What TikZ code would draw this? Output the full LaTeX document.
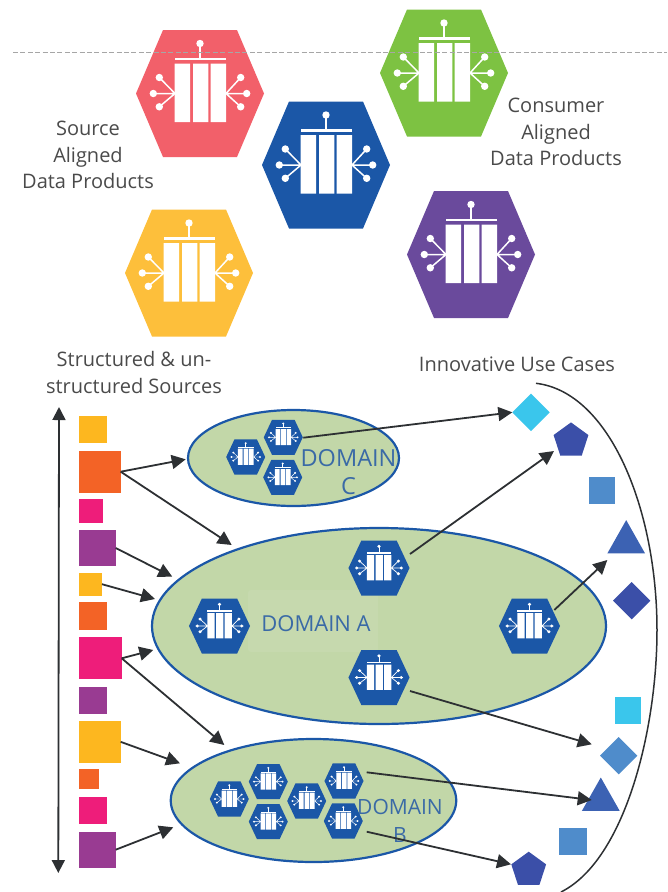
\documentclass[tikz,border=0pt]{standalone}
\usepackage{fontspec}
\setmainfont{Open Sans}
\usetikzlibrary{arrows.meta,shapes.geometric}
\definecolor{cRed}{HTML}{F2606A}
\definecolor{cBlue}{HTML}{1B57A7}
\definecolor{cGreen}{HTML}{7DC242}
\definecolor{cYel}{HTML}{FDBF3B}
\definecolor{cPur}{HTML}{6A4A9C}
\definecolor{sYel}{HTML}{FDB71F}
\definecolor{sOra}{HTML}{F36326}
\definecolor{sPin}{HTML}{EE1D7A}
\definecolor{sPur}{HTML}{993B92}
\definecolor{tCyan}{HTML}{3AC6EC}
\definecolor{tMid}{HTML}{4F8CCB}
\definecolor{tTri}{HTML}{3C62B3}
\definecolor{tDark}{HTML}{3B4FA8}
\definecolor{dFill}{HTML}{C2D7A8}
\definecolor{dText}{HTML}{3A6AA6}
\definecolor{ink}{HTML}{2D3033}
\definecolor{lab}{HTML}{4A4A4A}
\tikzset{
  pics/dataprod/.style n args={3}{code={
    \begin{scope}[xscale=#2,yscale=#3]
      \fill[#1] (-64,0)--(-37,-63.5)--(37,-63.5)--(64,0)--(37,63.5)--(-37,63.5)--cycle;
      \fill[white] (-25.3,-30) rectangle (-10,28.7) (-7,-30) rectangle (8.3,28.7) (10.7,-30) rectangle (26,28.7);
      \fill[white] (-25.3,-36) rectangle (26,-33.3);
      \draw[white,line width=#2*1.5pt] (0,-36)--(0,-50);
      \fill[white] (0,-50) circle[radius=3.7];
      \draw[white,line width=#2*1.5pt] (-40.7,-16)--(-25,0)--(-40.7,13.3) (-46.7,0)--(-25,0);
      \draw[white,line width=#2*1.5pt] (40.7,-16)--(26,0)--(40.7,13.3) (46.7,0)--(26,0);
      \foreach \p in {(-40.7,-16),(-46.7,0),(-40.7,13.3),(40.7,-16),(46.7,0),(40.7,13.3)}
        \fill[white] \p circle[radius=3.7];
    \end{scope}
  }},
  srcbox/.style={rectangle,anchor=north west,inner sep=0pt,outer sep=0pt,fill=#1},
  dom/.style={ellipse,draw=cBlue,fill=dFill,line width=2.2pt,inner sep=0pt,outer sep=0pt},
  usebox/.style={rectangle,inner sep=0pt,outer sep=0pt,fill=#1},
  usedia/.style={diamond,aspect=1,inner sep=0pt,outer sep=0pt,minimum width=37.4pt,minimum height=37.4pt,fill=#1},
  usepent/.style={regular polygon,regular polygon sides=5,inner sep=0pt,outer sep=0pt,minimum size=36.6pt,fill=#1},
  usetri/.style={isosceles triangle,shape border rotate=90,isosceles triangle stretches,inner sep=0pt,outer sep=0pt,minimum width=37.7pt,minimum height=33.3pt,fill=#1},
  flow/.style={draw=ink,line width=1.8pt,-{Triangle[length=14pt,width=14pt]}},
  lbl/.style={text=lab,align=center,font=\fontsize{20}{26.5}\selectfont},
  domlbl/.style={text=dText,align=center,font=\fontsize{22}{28}\selectfont}
}
\begin{document}
\begin{tikzpicture}[x=1pt,y=-1pt]
\useasboundingbox (0,0) rectangle (667,892);
% large data products
\coordinate (hRed) at (200,93.5);
\coordinate (hBlue) at (326,165);
\coordinate (hGreen) at (444,73);
\coordinate (hYel) at (189,273);
\coordinate (hPur) at (471,254.5);
\pic at (hRed) {dataprod={cRed}{1}{1}};
\pic at (hBlue) {dataprod={cBlue}{1}{1}};
\pic at (hGreen) {dataprod={cGreen}{1}{1}};
\pic at (hYel) {dataprod={cYel}{1}{1}};
\pic at (hPur) {dataprod={cPur}{1}{1}};
\coordinate (dashL) at (13,52);
\coordinate (dashR) at (667,52);
\draw[gray!70,line width=1pt,dash pattern=on 5pt off 2.4pt] (dashL)--(dashR);
% labels
\node[lbl] (tSrc) at (88,155) {Source\\Aligned\\Data Products};
\node[lbl] (tCon) at (556,132) {Consumer\\Aligned\\Data Products};
\node[lbl] (tStr) at (134,372.5) {Structured \& un-\\structured Sources};
\node[lbl] (tUse) at (517,364) {Innovative Use Cases};
% source axis
\coordinate (axT) at (59,407);
\coordinate (axB) at (58.3,873);
\draw[draw=ink,line width=1.8pt,{Triangle[length=13pt,width=13pt]}-{Triangle[length=13pt,width=13pt]}] (axT)--(axB);
% source boxes
\node[srcbox=sYel,minimum width=27.4pt,minimum height=27.3pt] (s1) at (79.3,415.7) {};
\node[srcbox=sOra,minimum width=41.4pt,minimum height=42pt] (s2) at (79.3,450.7) {};
\node[srcbox=sPin,minimum width=24pt,minimum height=23.7pt] (s3) at (79.3,499) {};
\node[srcbox=sPur,minimum width=36.4pt,minimum height=36pt] (s4) at (79.3,530) {};
\node[srcbox=sYel,minimum width=22.7pt,minimum height=23pt] (s5) at (79.3,572.7) {};
\node[srcbox=sOra,minimum width=27.4pt,minimum height=27.7pt] (s6) at (79.3,602.3) {};
\node[srcbox=sPin,minimum width=42.4pt,minimum height=42pt] (s7) at (79.3,637.3) {};
\node[srcbox=sPur,minimum width=27.4pt,minimum height=27.3pt] (s8) at (79.3,687) {};
\node[srcbox=sYel,minimum width=41.4pt,minimum height=41.7pt] (s9) at (79.3,721) {};
\node[srcbox=sOra,minimum width=20pt,minimum height=19.7pt] (s10) at (79.3,769.3) {};
\node[srcbox=sPin,minimum width=27.4pt,minimum height=27pt] (s11) at (79.3,796.7) {};
\node[srcbox=sPur,minimum width=36.4pt,minimum height=36pt] (s12) at (79.3,831.7) {};
% domains
\node[dom,minimum width=211pt,minimum height=96pt] (domC) at (293.5,458) {};
\node[dom,minimum width=454pt,minimum height=196pt] (domA) at (379,626) {};
\node[dom,minimum width=285.5pt,minimum height=123pt] (domB) at (313.5,800.5) {};
\fill[white,opacity=0.07,rounded corners=3pt] (248,590) rectangle (378,652);
% domain C hexes
\coordinate (hc1) at (245.7,457);
\coordinate (hc2) at (283.3,437.3);
\coordinate (hc3) at (282.7,477.3);
\foreach \c in {hc1,hc2,hc3} \pic at (\c) {dataprod={cBlue}{0.305}{0.276}};
% domain A hexes
\coordinate (ha1) at (219.5,626);
\coordinate (ha2) at (379,568);
\coordinate (ha3) at (529.5,626);
\coordinate (ha4) at (379,677.5);
\foreach \c in {ha1,ha2,ha3,ha4} \pic at (\c) {dataprod={cBlue}{0.477}{0.433}};
% domain B hexes
\coordinate (hb1) at (229.3,799);
\coordinate (hb2) at (268.3,781.7);
\coordinate (hb3) at (268.3,821.7);
\coordinate (hb4) at (306.7,801);
\coordinate (hb5) at (344,781);
\coordinate (hb6) at (343.3,821);
\foreach \c in {hb1,hb2,hb3,hb4,hb5,hb6} \pic at (\c) {dataprod={cBlue}{0.305}{0.276}};
% domain labels
\node[domlbl] (tA) at (316,624) {DOMAIN A};
\node[domlbl,font=\fontsize{23.5}{28}\selectfont] (tC) at (348.5,472) {DOMAIN\\C};
\node[domlbl,font=\fontsize{21}{28}\selectfont] (tB) at (400,821) {DOMAIN\\B};
% use-case shapes
\node[usedia=tCyan] (u1) at (531,412.3) {};
\node[usepent=tDark] (u2) at (571,440.7) {};
\node[usebox=tMid,minimum width=26pt,minimum height=26.7pt] (u3) at (601.7,490.3) {};
\node[usetri=tTri] (u4) at (626.2,542.4) {};
\node[usedia=tDark] (u5) at (631.7,600.7) {};
\node[usebox=tCyan,minimum width=26pt,minimum height=27pt] (u6) at (628.3,710.8) {};
\node[usedia=tMid] (u7) at (618.7,755.7) {};
\node[usetri=tTri] (u8) at (600.8,799.8) {};
\node[usebox=tMid,minimum width=27.7pt,minimum height=27pt] (u9) at (573.2,841.5) {};
\node[usepent=tDark] (u10) at (528.7,870) {};
% enclosing curve
\coordinate (arcA) at (536,383.3);
\coordinate (arcB) at (657,630);
\coordinate (arcC) at (561,892);
\draw[ink,line width=1.5pt] (arcA) .. controls (610,392) and (657,510) .. (arcB) .. controls (657,730) and (625,860) .. (arcC);
% free ends of the connectors
\coordinate (eC) at (185.7,459.3);
\coordinate (eA1) at (231.7,545);
\coordinate (eA2) at (172.3,576.7);
\coordinate (eA3) at (155,599);
\coordinate (eA4) at (153.3,650);
\coordinate (eB1) at (224.3,745);
\coordinate (eB2) at (180,763.3);
\coordinate (eB3) at (173.3,827.3);
\coordinate (oC) at (303.3,437.7);
\coordinate (oA2) at (410,554);
\coordinate (oA3) at (554.3,610);
\coordinate (oA4) at (410,691);
\coordinate (oB5) at (366.7,772.3);
\coordinate (oB6) at (366.7,831.7);
\coordinate (tU1) at (512.3,412.3);
\coordinate (tU2) at (554,451);
\coordinate (tU4) at (607.3,560);
\coordinate (tU7) at (591.7,744.3);
\coordinate (tU8) at (591.7,800);
\coordinate (tU10) at (511,864.3);
% connectors
\draw[flow] (s2.east)--(eC);
\draw[flow] (s2.east)--(eA1);
\draw[flow] (s4.east)--(eA2);
\draw[flow] (s5.east)--(eA3);
\draw[flow] (s7.east)--(eA4);
\draw[flow] (s7.east)--(eB1);
\draw[flow] (s9.east)--(eB2);
\draw[flow] (s12.east)--(eB3);
\draw[flow] (oC)--(tU1);
\draw[flow] (oA2)--(tU2);
\draw[flow] (oA3)--(tU4);
\draw[flow] (oA4)--(tU7);
\draw[flow] (oB5)--(tU8);
\draw[flow] (oB6)--(tU10);
\end{tikzpicture}
\end{document}
